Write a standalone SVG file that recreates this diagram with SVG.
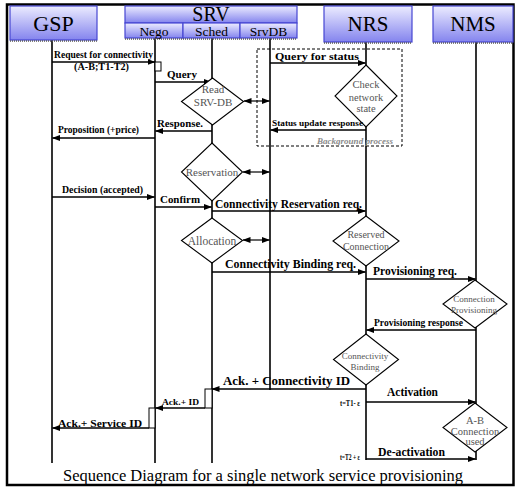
<svg xmlns="http://www.w3.org/2000/svg" width="516" height="489" viewBox="0 0 516 489" font-family="'Liberation Serif', 'Times New Roman', serif">
<defs>
  <linearGradient id="hdr" x1="0" y1="0" x2="0" y2="1">
    <stop offset="0" stop-color="#ececff"/>
    <stop offset="1" stop-color="#8484ee"/>
  </linearGradient>
  <marker id="ah" markerUnits="userSpaceOnUse" markerWidth="8" markerHeight="6" refX="7.5" refY="3" orient="auto-start-reverse">
    <path d="M0,0 L8,3 L0,6 z" fill="#000"/>
  </marker>
</defs>
<style>
  .frame{fill:#fff;stroke:#000;stroke-width:2.5}
  .hdr{fill:url(#hdr);stroke:#4646d2;stroke-width:1.2}
  .shadow{stroke:#555;stroke-width:1.5;stroke-dasharray:1 1}
  .life{stroke:#000;stroke-width:1.6;fill:none}
  .msg{stroke:#000;stroke-width:1.3;fill:none;marker-end:url(#ah)}
  .dbl{stroke:#000;stroke-width:1.2;fill:none;marker-start:url(#ah);marker-end:url(#ah)}
  .act{fill:#fff;stroke:#000;stroke-width:1}
  .dia{fill:#fff;stroke:#000;stroke-width:1.1}
  .bg{stroke:#000;stroke-width:1;stroke-dasharray:3 2;fill:none}
  text{font-family:"Liberation Serif","Times New Roman",serif}
  .ht{font-size:21px;text-anchor:middle;fill:#000}
  .sub{font-size:13.5px;text-anchor:middle;fill:#000}
  .lb{font-weight:bold;fill:#000}
  .dt{fill:#555;text-anchor:middle}
</style>

<!-- outer frame -->
<rect class="frame" x="7" y="4.5" width="506.5" height="480.5"/>

<!-- lifelines -->
<g id="lifelines">
  <line class="life" x1="52" y1="40" x2="52" y2="463"/>
  <line class="life" x1="155" y1="38" x2="155" y2="463"/>
  <line class="life" x1="212" y1="38" x2="212" y2="463"/>
  <line class="life" x1="270" y1="38" x2="270" y2="390"/>
  <line class="life" x1="366" y1="42" x2="366" y2="460"/>
  <line class="life" x1="476" y1="42" x2="476" y2="460"/>
</g>

<!-- header: GSP -->
<g id="gsp">
  <rect class="hdr" x="10" y="6" width="87" height="34"/>
  <line class="shadow" x1="10" y1="41" x2="97" y2="41"/>
  <text class="ht" x="53.5" y="31" style="font-size:22px">GSP</text>
</g>

<!-- header: SRV with its three parts -->
<g id="srv">
  <rect class="hdr" x="125" y="6" width="172" height="17"/>
  <rect class="hdr" x="125" y="23" width="58" height="15"/>
  <rect class="hdr" x="183" y="23" width="57" height="15"/>
  <rect class="hdr" x="240" y="23" width="57" height="15"/>
  <line class="shadow" x1="125" y1="39" x2="297" y2="39"/>
  <text class="ht" x="211" y="21" style="font-size:20px">SRV</text>
  <text class="sub" x="154" y="36">Nego</text>
  <text class="sub" x="211.5" y="36">Sched</text>
  <text class="sub" x="268.5" y="36">SrvDB</text>
</g>

<!-- header: NRS -->
<g id="nrs">
  <rect class="hdr" x="324" y="6" width="88" height="36"/>
  <line class="shadow" x1="324" y1="43" x2="412" y2="43"/>
  <text class="ht" x="368" y="31">NRS</text>
</g>

<!-- header: NMS -->
<g id="nms">
  <rect class="hdr" x="433" y="6" width="80" height="36"/>
  <line class="shadow" x1="433" y1="43" x2="513" y2="43"/>
  <text class="ht" x="473" y="31">NMS</text>
</g>

<!-- background process region -->
<g id="background">
  <rect class="bg" x="257" y="49" width="145" height="97"/>
  <text x="317" y="144" font-size="9" font-weight="bold" font-style="italic" fill="#8a8a8a" textLength="76" lengthAdjust="spacingAndGlyphs">Background process</text>
</g>

<!-- activation boxes -->
<g id="activations">
  <rect class="act" x="155" y="62" width="6" height="9"/>
  <rect class="act" x="205" y="389" width="7" height="19"/>
  <rect class="act" x="149" y="408" width="6" height="20"/>
</g>

<!-- connectors -->
<g id="connectors">
  <path class="msg" d="M52,62 H155"/>
  <path class="msg" d="M155,82 H211.5"/>
  <path class="msg" d="M270,63 H365.5"/>
  <path class="dbl" d="M244,101 H269.5"/>
  <path class="msg" d="M212,131 H155.5"/>
  <path class="msg" d="M155,138 H52.5"/>
  <path class="msg" d="M366,130 H270.5"/>
  <path class="dbl" d="M243,172 H269.5"/>
  <path class="msg" d="M52,197 H154.5"/>
  <path class="msg" d="M155,207 H211.5"/>
  <path class="msg" d="M212,211 H365.5"/>
  <path class="dbl" d="M243,240 H269.5"/>
  <path class="msg" d="M212,272 H365.5"/>
  <path class="msg" d="M366,279 H475.5"/>
  <path class="msg" d="M476,330 H366.5"/>
  <path class="msg" d="M366,389 H212"/>
  <path class="msg" d="M366,402 H475.5"/>
  <path class="msg" d="M205,408 H155.5"/>
  <path class="msg" d="M149,428 H52.5"/>
  <path class="msg" d="M366,459 H475.5"/>
</g>

<!-- decision / state nodes -->
<g id="read-srv-db">
  <polygon class="dia" points="212.5,78 243.5,101.5 212.5,125 181.5,101.5"/>
  <text class="dt" x="213" y="93" font-size="11">Read</text>
  <text class="dt" x="213" y="106" font-size="11">SRV-DB</text>
</g>
<g id="check-network-state">
  <polygon class="dia" points="366,65 397,96 366,127 335,96"/>
  <text class="dt" x="366" y="88" font-size="10.5">Check</text>
  <text class="dt" x="366" y="101" font-size="10.5">network</text>
  <text class="dt" x="366" y="112" font-size="10.5">state</text>
</g>
<g id="reservation">
  <polygon class="dia" points="212,143 242.5,172 212,201 181.5,172"/>
  <text class="dt" x="212" y="176" font-size="11">Reservation</text>
</g>
<g id="allocation">
  <polygon class="dia" points="212,218 242.5,240.5 212,263 181.5,240.5"/>
  <text class="dt" x="212" y="244.5" font-size="11.5">Allocation</text>
</g>
<g id="reserved-connection">
  <polygon class="dia" points="366,216 399,241 366,266 333,241"/>
  <text class="dt" x="366" y="238" font-size="10">Reserved</text>
  <text class="dt" x="366" y="250" font-size="10">Connection</text>
</g>
<g id="connection-provisioning">
  <polygon class="dia" points="475,280 507,304 475,328 443,304"/>
  <text class="dt" x="474" y="302" font-size="9">Connection</text>
  <text class="dt" x="474" y="313" font-size="9">Provisioning</text>
</g>
<g id="connectivity-binding">
  <polygon class="dia" points="366,334 398.5,359.5 366,385 333.5,359.5"/>
  <text class="dt" x="365" y="359" font-size="9">Connectivity</text>
  <text class="dt" x="365" y="370" font-size="9">Binding</text>
</g>
<g id="connection-used">
  <polygon class="dia" points="475,403 507,427.5 475,452 443,427.5"/>
  <text class="dt" x="475" y="424" font-size="10.5">A-B</text>
  <text class="dt" x="475" y="434.5" font-size="10.5">Connection</text>
  <text class="dt" x="475" y="445" font-size="10.5">used</text>
</g>

<!-- message labels -->
<g id="labels" class="lb">
  <text x="54" y="58" font-size="9.5" textLength="99" lengthAdjust="spacingAndGlyphs">Request for connectivity</text>
  <text x="74" y="70" font-size="9.5" textLength="55" lengthAdjust="spacingAndGlyphs">(A-B;T1-T2)</text>
  <text x="167" y="78" font-size="11" textLength="30" lengthAdjust="spacingAndGlyphs">Query</text>
  <text x="275" y="60" font-size="11" textLength="84" lengthAdjust="spacingAndGlyphs">Query for status</text>
  <text x="272" y="126" font-size="9" textLength="91" lengthAdjust="spacingAndGlyphs">Status update response</text>
  <text x="157" y="127" font-size="11" textLength="46" lengthAdjust="spacingAndGlyphs">Response.</text>
  <text x="58" y="133" font-size="9.3" textLength="81" lengthAdjust="spacingAndGlyphs">Proposition (+price)</text>
  <text x="62" y="193" font-size="9.5" textLength="81" lengthAdjust="spacingAndGlyphs">Decision (accepted)</text>
  <text x="160" y="203" font-size="11" textLength="40" lengthAdjust="spacingAndGlyphs">Confirm</text>
  <text x="215" y="208" font-size="11.5" textLength="147" lengthAdjust="spacingAndGlyphs">Connectivity Reservation req.</text>
  <text x="225" y="268" font-size="11.5" textLength="131" lengthAdjust="spacingAndGlyphs">Connectivity Binding req.</text>
  <text x="373" y="275" font-size="11.5" textLength="84" lengthAdjust="spacingAndGlyphs">Provisioning req.</text>
  <text x="374" y="326" font-size="9.5" textLength="89" lengthAdjust="spacingAndGlyphs">Provisioning response</text>
  <text x="223" y="385" font-size="11.5" textLength="127" lengthAdjust="spacingAndGlyphs">Ack. + Connectivity ID</text>
  <text x="387" y="396" font-size="11.5" textLength="51" lengthAdjust="spacingAndGlyphs">Activation</text>
  <text x="340" y="405.5" font-size="7.5" textLength="20" lengthAdjust="spacingAndGlyphs">t=T1- ε</text>
  <text x="162" y="405" font-size="9" textLength="37" lengthAdjust="spacingAndGlyphs">Ack.+ ID</text>
  <text x="58" y="427" font-size="11" textLength="84" lengthAdjust="spacingAndGlyphs">Ack.+ Service ID</text>
  <text x="378" y="456" font-size="11.5" textLength="67" lengthAdjust="spacingAndGlyphs">De-activation</text>
  <text x="340" y="459.5" font-size="7.5" textLength="20" lengthAdjust="spacingAndGlyphs">t=T2 + ε</text>
</g>

<!-- caption -->
<text x="63" y="481" font-size="16.5" fill="#000" textLength="400" lengthAdjust="spacingAndGlyphs">Sequence Diagram for a single network service provisioning</text>
</svg>
